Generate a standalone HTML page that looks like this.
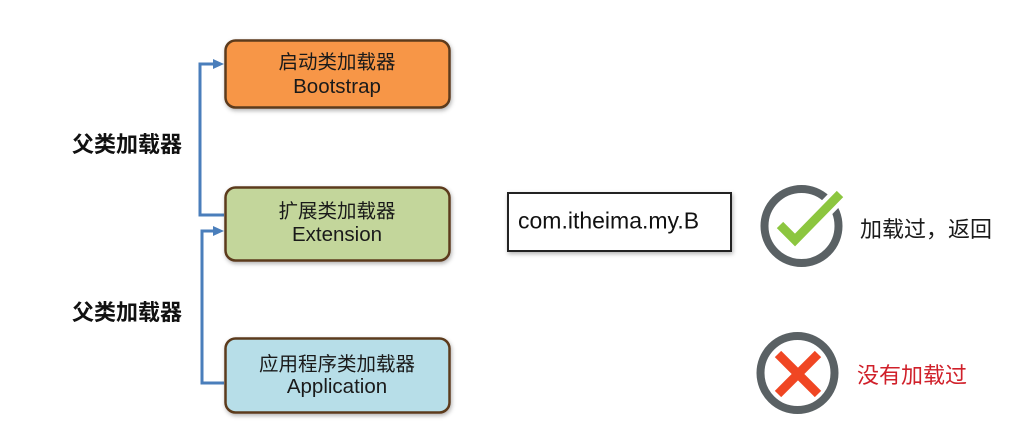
<!DOCTYPE html>
<html>
<head>
<meta charset="utf-8">
<style>
  html, body { margin:0; padding:0; background:#fff; }
  body { width:1024px; height:440px; position:relative; overflow:hidden;
         font-family:"Liberation Sans","Noto Sans CJK SC",sans-serif; color:#1a1a1a; }
  svg { position:absolute; left:0; top:0; }
  .t { position:absolute; white-space:nowrap; line-height:1; }
  .cn { font-size:19.5px; }
  .en { font-size:20.5px; }
  .c { transform:translate(-50%,-50%); }
  .lbl { font-size:22px; font-weight:bold; color:#111; transform:translateY(-50%); }
  .r { font-size:22px; transform:translateY(-50%); }
</style>
</head>
<body>
<svg width="1024" height="440" viewBox="0 0 1024 440">
  <defs>
    <filter id="sh" x="-10%" y="-10%" width="130%" height="140%">
      <feDropShadow dx="1" dy="2" stdDeviation="2" flood-color="#000" flood-opacity="0.3"/>
    </filter>
  </defs>
  <!-- connectors -->
  <path d="M224 215 H200 V64 H214" fill="none" stroke="#4a7ebb" stroke-width="3"/>
  <polygon points="213,59 224,64 213,69" fill="#4a7ebb"/>
  <path d="M224 383 H202 V231 H214" fill="none" stroke="#4a7ebb" stroke-width="3"/>
  <polygon points="213,226 224,231 213,236" fill="#4a7ebb"/>
  <!-- boxes -->
  <rect x="225.5" y="40.5" width="224" height="67" rx="10" fill="#f79646" stroke="#5c3a1e" stroke-width="2.5" filter="url(#sh)"/>
  <rect x="225.5" y="187.5" width="224" height="73" rx="10" fill="#c3d69b" stroke="#5c3a1e" stroke-width="2.5" filter="url(#sh)"/>
  <rect x="225.5" y="338.5" width="224" height="74" rx="10" fill="#b7dee8" stroke="#5c3a1e" stroke-width="2.5" filter="url(#sh)"/>
  <!-- com box -->
  <rect x="508" y="193" width="223" height="58" fill="#fff" stroke="#222" stroke-width="2" filter="url(#sh)"/>
  <!-- check icon -->
  <circle cx="801.5" cy="226" r="37" fill="none" stroke="#5a6164" stroke-width="8"/>
  <polyline points="780,225 795,240 840,194" fill="none" stroke="#fff" stroke-width="17"/>
  <polyline points="780,225 795,240 840,194" fill="none" stroke="#8cc63f" stroke-width="9"/>
  <!-- x icon -->
  <circle cx="797.5" cy="373" r="37" fill="none" stroke="#5a6164" stroke-width="8"/>
  <line x1="778" y1="354" x2="818" y2="394" stroke="#f04623" stroke-width="9"/>
  <line x1="818" y1="354" x2="778" y2="394" stroke="#f04623" stroke-width="9"/>
</svg>

<div class="t cn c" style="left:337px;top:63px;">启动类加载器</div>
<div class="t en c" style="left:337px;top:87px;">Bootstrap</div>
<div class="t cn c" style="left:337px;top:212px;">扩展类加载器</div>
<div class="t en c" style="left:337px;top:235px;">Extension</div>
<div class="t cn c" style="left:337px;top:365px;">应用程序类加载器</div>
<div class="t en c" style="left:337px;top:387px;">Application</div>

<div class="t lbl" style="left:72px;top:145px;">父类加载器</div>
<div class="t lbl" style="left:72px;top:313px;">父类加载器</div>

<div class="t" style="left:518px;top:221px;font-size:23px;transform:translateY(-50%);color:#111;">com.itheima.my.B</div>

<div class="t r" style="left:860px;top:230px;color:#1a1a1a;">加载过，返回</div>
<div class="t r" style="left:857px;top:376px;color:#d0202a;">没有加载过</div>
</body>
</html>
